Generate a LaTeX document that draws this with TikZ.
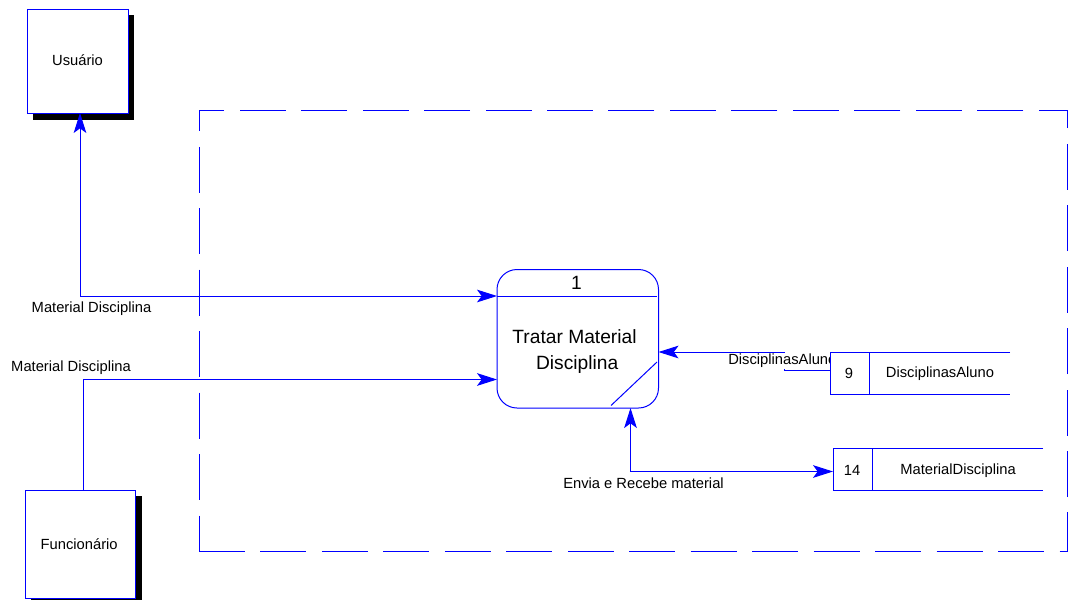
\documentclass[tikz,border=0pt]{standalone}
\usepackage{fontspec}
\setmainfont{Liberation Sans}
\usetikzlibrary{arrows.meta}
\definecolor{flow}{RGB}{0,0,255}
\tikzset{
  px/.style={x=0.75pt,y=-0.75pt},
  line/.style={draw=flow,line width=0.75pt},
  flowarrow/.style={line,-{Stealth[length=15pt,width=9.5pt,inset=3.5pt]}},
  flowboth/.style={line,{Stealth[length=15pt,width=9.5pt,inset=3.5pt]}-{Stealth[length=15pt,width=9.5pt,inset=3.5pt]}},
  boxat/.style n args={4}{minimum width={(#3-#1)*0.75pt},minimum height={(#4-#2)*0.75pt},inner sep=0pt,outer sep=0pt,anchor=north west},
  small/.style={font=\fontsize{11.05pt}{12pt}\selectfont},
  entity/.style={line,fill=white,small},
  storebox/.style={fill=white,small},
  lab/.style={small,inner sep=0pt},
  big/.style={font=\fontsize{14.4pt}{18.9pt}\selectfont},
  boundary/.style={line,dash pattern=on 34.5pt off 11.6pt},
}
\begin{document}
\begin{tikzpicture}[px]
\useasboundingbox (0,0) rectangle (1069,600);
% boundary
\draw[boundary] (199,551) -- (1067,551) -- (1067,110.5) -- (199,110.5) -- cycle;
% shadows
\fill[black] (32.5,15) rectangle (134,119.5);
\fill[black] (31,496) rectangle (142,600);
% entities
\node[entity,draw,boxat={27}{9.5}{128}{113}] (usr) at (27,9.5) {\raisebox{1.5pt}{Usuário}};
\node[entity,draw,boxat={25.5}{490.5}{135.5}{598}] (fun) at (25.5,490.5) {\hspace*{-2pt}Funcionário};
% process
\node[line,draw,rounded corners=15pt,boxat={497}{269.5}{658.5}{408}] (proc) at (497,269.5) {};
\coordinate (hl) at (497,296);
\coordinate (hr) at (657,296);
\draw[line] (hl) -- (hr);
\coordinate (d1) at (611,405.5);
\coordinate (d2) at (657,362);
\draw[line] (d1) -- (d2);
\node[big,inner sep=0pt] (pnum) at (576.5,283) {1};
\node[big,align=center,inner sep=0pt] (pname) at (574.5,351.5) {Tratar Material\\\hspace*{4pt}Disciplina};
% connectors to the entities
\coordinate (b1) at (80,296);
\draw[flowboth] (b1 |- usr.south) -- (b1) -- (b1 -| proc.west);
\coordinate (b2) at (83,379.5);
\draw[flowarrow] (b2 |- fun.north) -- (b2) -- (b2 -| proc.west);
\node[lab] (l1) at (91.5,309) {Material Disciplina};
\node[lab] (l2) at (71,367.5) {Material Disciplina};
% data store connectors
\node[storebox,boxat={830}{352.5}{1010}{394}] (s9) at (830,352.5) {};
\node[storebox,boxat={833}{448.5}{1043}{490.5}] (s14) at (833,448.5) {};
\coordinate (b3) at (784,352);
\coordinate (b4) at (784,370);
\draw[flowarrow] (s9.west |- b4) -- (b4) -- (b3) -- (b3 -| proc.east);
\node[lab,fill=white,anchor=west,minimum height=12pt] (l3) at (728,360.5) {DisciplinasAluno};
\coordinate (b5) at (630.5,471.5);
\draw[flowboth] (b5 |- proc.south) -- (b5) -- (b5 -| s14.west);
\node[lab] (l4) at (643.5,483.5) {Envia e Recebe material};
% data stores
\node[storebox,boxat={830}{352.5}{1010}{394}] (s9b) at (830,352.5) {};
\draw[line] (s9b.north east) -- (s9b.north west) -- (s9b.south west) -- (s9b.south east);
\coordinate (v9) at (869.5,373);
\draw[line] (v9 |- s9b.north) -- (v9 |- s9b.south);
\node[lab] (n9) at (849,373.5) {9};
\node[lab] (t9) at (940,373.5) {DisciplinasAluno};
\draw[line] (s14.north east) -- (s14.north west) -- (s14.south west) -- (s14.south east);
\coordinate (v14) at (872.5,470);
\draw[line] (v14 |- s14.north) -- (v14 |- s14.south);
\node[lab] (n14) at (852,470.5) {14};
\node[lab] (t14) at (958,470.5) {MaterialDisciplina};
\end{tikzpicture}
\end{document}
